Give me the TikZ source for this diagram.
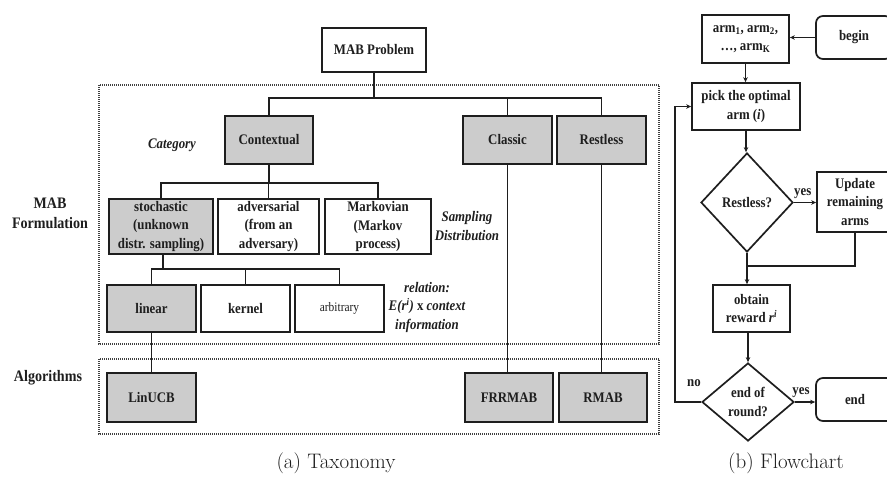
\documentclass[tikz,border=0pt]{standalone}
\usepackage{fontspec}
\newfontfamily\tnr[FakeStretch=0.88]{Liberation Serif}
\usetikzlibrary{shapes.geometric,arrows.meta}
\definecolor{ink}{HTML}{1E1E1E}
\definecolor{boxgray}{HTML}{CCCCCC}
\begin{document}
\begin{tikzpicture}[x=1pt,y=-1pt,
  every node/.style={text=ink,font=\tnr\bfseries\fontsize{14.6}{18.5}\selectfont},
  box/.style={draw=ink,line width=1.7pt,inner sep=1pt,align=center},
  gbox/.style={box,fill=boxgray},
  rbox/.style={box,rounded corners=7pt},
  dia/.style={box,diamond,inner sep=0pt},
  lbl/.style={font=\tnr\bfseries\itshape\fontsize{14.6}{18.5}\selectfont,align=center},
  rowlbl/.style={font=\tnr\bfseries\fontsize{16}{20}\selectfont,align=center},
  captxt/.style={font=\fontsize{21}{24}\selectfont},
  con/.style={draw=ink,line width=1.6pt},
  arr/.style={con,-{Stealth[length=5pt,width=4.5pt]}},
  frame/.style={draw=ink!85,line width=1.3pt,dash pattern=on 1pt off 1pt}
]
\useasboundingbox (0,0) rectangle (887,485);
\clip (0,0) rectangle (887,485);
\fill[white] (0,0) rectangle (887,485);

% frames
\draw[frame] (99,85) rectangle (659,344);
\draw[frame] (99,359) rectangle (659,434);

% taxonomy nodes
\node[box,minimum width=104,minimum height=44] (mab) at (374,50) {MAB Problem};
\node[gbox,minimum width=88,minimum height=48] (ctx) at (269,140) {Contextual};
\node[gbox,minimum width=89,minimum height=48] (classic) at (507.5,140) {Classic};
\node[gbox,minimum width=89,minimum height=48] (restless) at (601.5,140) {Restless};
\node[gbox,minimum width=104,minimum height=55] (stoch) at (161,226.5) {stochastic\\(unknown\\distr. sampling)};
\node[box,minimum width=101,minimum height=55] (adv) at (268.5,226.5) {adversarial\\(from an\\adversary)};
\node[box,minimum width=106,minimum height=55] (markov) at (378,226.5) {Markovian\\(Markov\\process)};
\node[gbox,minimum width=89,minimum height=47] (linear) at (151.5,308.5) {linear};
\node[box,minimum width=89,minimum height=47] (kernel) at (245.5,308.5) {kernel};
\node[box,minimum width=89,minimum height=47,font=\tnr\fontsize{13}{15}\selectfont] (arbitrary) at (339.5,308.5) {arbitrary};
\node[gbox,minimum width=89,minimum height=49] (linucb) at (151.5,397.5) {LinUCB};
\node[gbox,minimum width=88,minimum height=49] (frrmab) at (509,397.5) {FRRMAB};
\node[gbox,minimum width=88,minimum height=49] (rmab) at (603,397.5) {RMAB};

% labels
\node[lbl] (category) at (172,145) {Category};
\node[lbl] (sampling) at (467,226) {Sampling\\Distribution};
\node[lbl] (relation) at (427,307) {relation:\\E(\textit{r}\textsuperscript{\textit{i}}) {\upshape x} context\\information};
\node[rowlbl] (formulation) at (50,213) {MAB\\Formulation};
\node[rowlbl] (algorithms) at (48,378) {Algorithms};

% taxonomy connectors
\coordinate (j1) at (374,98);
\draw[con] (mab.south) -- (j1);
\draw[con] (ctx.north) |- (j1) -| (restless.north);
\draw[con] (classic.north) -- (classic.north |- j1);
\coordinate (j2) at (269,183);
\draw[con] (ctx.south) -- (j2);
\draw[con] (stoch.north) |- (j2) -| (markov.north);
\draw[con] (adv.north) -- (adv.north |- j2);
\coordinate (j3) at (163,269);
\draw[con] (j3 |- stoch.south) -- (j3);
\draw[con] (linear.north) |- (j3) -| (arbitrary.north);
\draw[con] (kernel.north) -- (kernel.north |- j3);
\draw[con] (linear.south) -- (linucb.north);
\draw[con] (classic.south) -- (classic.south |- frrmab.north);
\draw[con] (restless.south) -- (restless.south |- rmab.north);

% flowchart nodes
\node[box,minimum width=87,minimum height=48] (arm) at (745.5,39) {arm\textsubscript{1}, arm\textsubscript{2},\\\ldots, arm\textsubscript{K}};
\node[rbox,minimum width=76,minimum height=43] (begin) at (854,37.5) {begin};
\node[box,minimum width=108,minimum height=47] (pick) at (746,106.5) {pick the optimal\\arm (\textit{i})};
\node[dia,minimum width=92,minimum height=99] (rdia) at (747,202.5) {Restless?};
\node[box,minimum width=76,minimum height=60] (update) at (855,202) {Update\\remaining\\arms};
\node[box,minimum width=77,minimum height=47] (obtain) at (751.5,308.5) {obtain\\reward \textit{r}\textsuperscript{\textit{i}}};
\node[dia,minimum width=92,minimum height=78] (edia) at (748,402) {end of\\round?};
\node[rbox,minimum width=78,minimum height=43] (endn) at (855,399.5) {end};

% flowchart connectors
\draw[arr] (begin.west) -- (begin.west -| arm.east);
\draw[arr] (arm.south) -- (arm.south |- pick.north);
\draw[arr] (pick.south) -- (pick.south |- rdia.north);
\draw[arr] (rdia.east) -- node[above,pos=0.4] (yes1) {yes} (rdia.east -| update.west);
\coordinate (j4) at (747,266);
\draw[con] (update.south) |- (j4);
\draw[arr] (rdia.south) -- (rdia.south |- obtain.north);
\draw[arr] (obtain.south -| edia.north) -- (edia.north);
\draw[arr] (edia.east) -- node[above,pos=0.3] (yes2) {yes} (edia.east -| endn.west);
\coordinate (j5) at (675,402);
\draw[arr] (edia.west) -- (j5) |- (pick.west);
\node (no) at (694,383) {no};

% captions
\node[captxt] (capa) at (336,463) {(a) Taxonomy};
\node[captxt] (capb) at (786,463) {(b) Flowchart};
\end{tikzpicture}
\end{document}
